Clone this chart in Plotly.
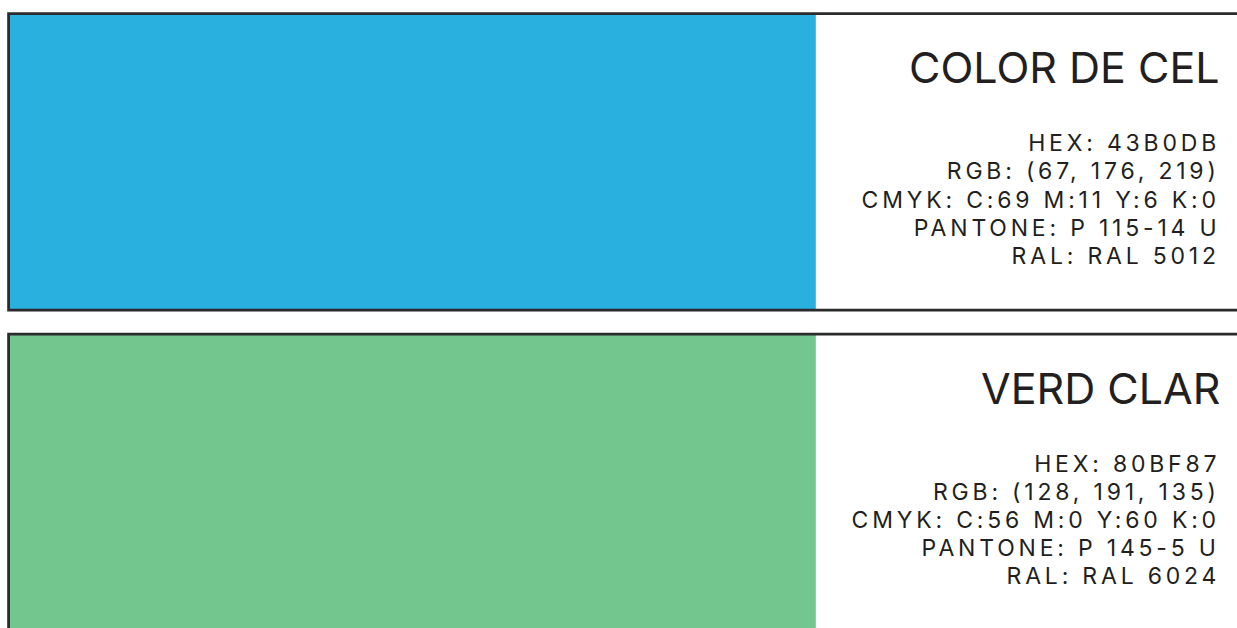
import plotly.graph_objects as go

# ---- data ----
names = ["COLOR DE CEL", "VERD CLAR"]
hex_codes = ["43B0DB", "80BF87"]
rgb_values = ["(67, 176, 219)", "(128, 191, 135)"]
cmyk_values = ["C:69 M:11 Y:6 K:0", "C:56 M:0 Y:60 K:0"]
pantone_values = ["P 115-14 U", "P 145-5 U"]
ral_values = ["RAL 5012", "RAL 6024"]
swatch_colors = ["#29B0DE", "#73C68E"]

# ---- layout constants ----
W, H = 1237, 628
BOX_LEFT = 8.6
BOX_TOP = 13.6
BOX_H = 296.6
BOX_STEP = 320.5
SWATCH_RIGHT = 815.8
BORDER = "#2B2A2C"
TEXT = "#231F20"
FONT = "Inter"
TEXT_RIGHT = 1218
TITLE_RIGHT = 1221.5
TITLE_DY = 67.0
DETAIL_DY = 129.5
DETAIL_STEP = 28.2
TRACKING = 3.8

fig = go.Figure()
shapes = []
annotations = []
for i, name in enumerate(names):
    top = BOX_TOP + i * BOX_STEP
    shapes.append(dict(type="rect", xref="x", yref="y", layer="below",
                       x0=BOX_LEFT, x1=SWATCH_RIGHT, y0=top, y1=top + BOX_H,
                       fillcolor=swatch_colors[i], line=dict(width=0)))
    shapes.append(dict(type="rect", xref="x", yref="y", layer="above",
                       x0=BOX_LEFT, x1=W + 10, y0=top, y1=top + BOX_H,
                       fillcolor="rgba(0,0,0,0)", line=dict(color=BORDER, width=2.8)))
    annotations.append(dict(x=TITLE_RIGHT, y=top + TITLE_DY - BOX_TOP, xref="x", yref="y",
                            text=name, showarrow=False, xanchor="right", yanchor="middle",
                            align="right",
                            font=dict(family=FONT, size=43, color=TEXT)))
    lines = [
        f"HEX: {hex_codes[i]}",
        f"RGB: {rgb_values[i]}",
        f"CMYK: {cmyk_values[i]}",
        f"PANTONE: {pantone_values[i]}",
        f"RAL: {ral_values[i]}",
    ]
    for j, line in enumerate(lines):
        annotations.append(dict(x=TEXT_RIGHT + TRACKING, y=top + DETAIL_DY + j * DETAIL_STEP,
                                xref="x", yref="y", text=line, showarrow=False,
                                xanchor="right", yanchor="middle", align="right",
                                font=dict(family=FONT, size=23, color=TEXT)))

fig.update_layout(
    width=W, height=H,
    margin=dict(l=0, r=0, t=0, b=0),
    paper_bgcolor="white", plot_bgcolor="white",
    xaxis=dict(range=[0, W], visible=False, fixedrange=True),
    yaxis=dict(range=[H, 0], visible=False, fixedrange=True),
    shapes=shapes, annotations=annotations, showlegend=False,
)

post_script = """
document.body.style.margin = '0';
document.body.style.overflow = 'hidden';
var gd = document.getElementById('{plot_id}');
gd.querySelectorAll('.annotation-text').forEach(function (t) {
  if (t.textContent.indexOf(':') >= 0) {
    t.style.letterSpacing = '%.1fpx';
  }
});
""" % TRACKING

fig.write_html("out.html", config={"displayModeBar": False}, post_script=post_script)
